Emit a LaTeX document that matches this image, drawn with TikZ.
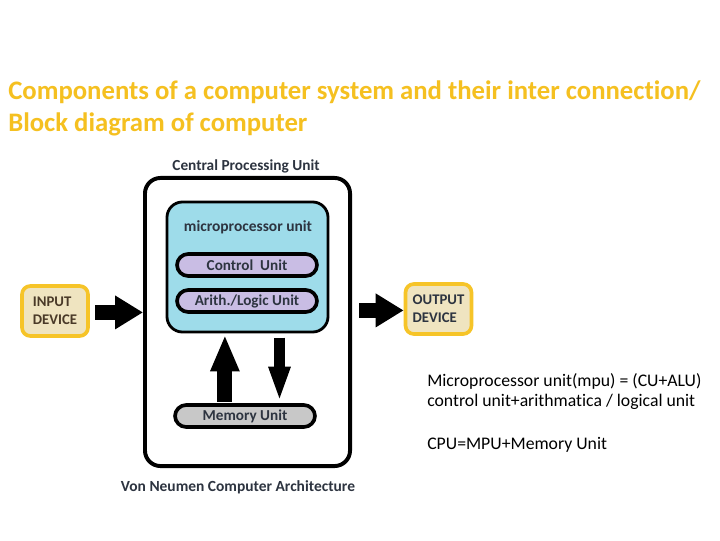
\documentclass[tikz,border=0pt]{standalone}
\usepackage{fontspec}
\setmainfont{Carlito}[Ligatures=NoCommon]
\usepackage{tikz}
\usetikzlibrary{arrows.meta, positioning, calc}
\definecolor{titlegold}{RGB}{245, 192, 32}
\definecolor{mpublue}{RGB}{158, 220, 234}
\definecolor{unitlilac}{RGB}{201, 189, 228}
\definecolor{memgrey}{RGB}{200, 200, 200}
\definecolor{devbeige}{RGB}{239, 228, 192}
\definecolor{devborder}{RGB}{246, 196, 40}
\definecolor{labeldark}{RGB}{45, 52, 64}
\definecolor{inbrown}{RGB}{74, 58, 40}

\begin{document}
\begin{tikzpicture}[
    x=0.025cm, y=-0.025cm,
    unitbox/.style={draw=black, line width=2.6pt, rounded corners=8pt, minimum width=3.5cm, minimum height=0.55cm, inner sep=0pt, font=\bfseries\fontsize{10.8}{12}\selectfont, text=labeldark},
    devbox/.style={draw=devborder, fill=devbeige, line width=2.6pt, rounded corners=6pt, minimum width=1.65cm, minimum height=1.25cm, align=left, inner sep=0pt, font=\bfseries\fontsize{10.5}{13}\selectfont},
    fatarrow/.style={line width=10.6pt, -{Triangle[width=22.7pt, length=19.9pt]}},
    notetext/.style={anchor=base west, inner sep=0pt, font=\fontsize{12.6}{14}\selectfont}
]
    % page
    \fill[white] (0,0) rectangle (720,540);
    \useasboundingbox (0,0) rectangle (720,540);

    % heading
    \node[anchor=base west, inner sep=0pt, text=titlegold, font=\bfseries\fontsize{19}{22}\selectfont] (title1) at (8,99) {Components of a computer system and their inter connection/};
    \node[anchor=base west, inner sep=0pt, text=titlegold, font=\bfseries\fontsize{19}{22}\selectfont] (title2) at (8,131) {Block diagram of computer};

    % CPU with the units inside
    \node[draw=black, line width=2.8pt, rounded corners=11pt, minimum width=5.125cm, minimum height=7.2cm] (cpu) at (247.5,322) {};
    \node[text=labeldark, font=\bfseries\fontsize{10.9}{12}\selectfont] (cpulabel) at (246,166) {Central Processing Unit};
    \node[draw=black, fill=mpublue, line width=2pt, rounded corners=11pt, minimum width=4.025cm, minimum height=3.25cm] (mpu) at (247.5,267) {};
    \node[text=labeldark, font=\bfseries\fontsize{11}{12}\selectfont] (mpulabel) at (248,227) {microprocessor unit};
    \node[unitbox, fill=unitlilac] (cu) at (247,265) {Control~~Unit};
    \node[unitbox, fill=unitlilac] (alu) at (247,301) {Arith./Logic Unit};
    \node[unitbox, fill=memgrey] (mem) at (245,416) {Memory Unit};
    \node[text=labeldark, font=\bfseries\fontsize{11}{12}\selectfont] (arch) at (238,487) {Von Neumen Computer Architecture};

    % devices
    \node[devbox, text=inbrown] (indev) at (55,311) {INPUT\\DEVICE};
    \node[devbox, text=labeldark] (outdev) at (438.5,309) {OUTPUT\\DEVICE};

    % data flow
    \coordinate (upfoot) at ($(mem.north west)!0.36!(mem.north east)$);
    \coordinate (uphead) at (upfoot |- mpu.south);
    \coordinate (downfoot) at ($(mem.north west)!0.74!(mem.north east)$);
    \coordinate (downhead) at (downfoot |- mpu.south);
    \draw[fatarrow] ([xshift=4pt,yshift=-1pt]indev.east) -- ([yshift=-1pt]indev.east -| cpu.west);
    \draw[fatarrow] ([xshift=5pt,yshift=-1pt]outdev.west -| cpu.east) -- ([yshift=-1pt]outdev.west);
    \draw[line width=10.6pt, -{Triangle[width=19pt, length=26pt]}] ([yshift=1pt]upfoot) -- ([yshift=-1pt]uphead);
    \draw[line width=8.5pt, -{Triangle[width=14pt, length=25pt]}] ([yshift=-3pt]downhead) -- ([yshift=1pt]downfoot);

    % notes
    \node[notetext] (note1) at (427,386) {Microprocessor unit(mpu) = (CU+ALU)};
    \node[notetext] (note2) at (427,406) {control unit+arithmatica / logical unit};
    \node[notetext] (note3) at (427,449) {CPU=MPU+Memory Unit};
\end{tikzpicture}
\end{document}
